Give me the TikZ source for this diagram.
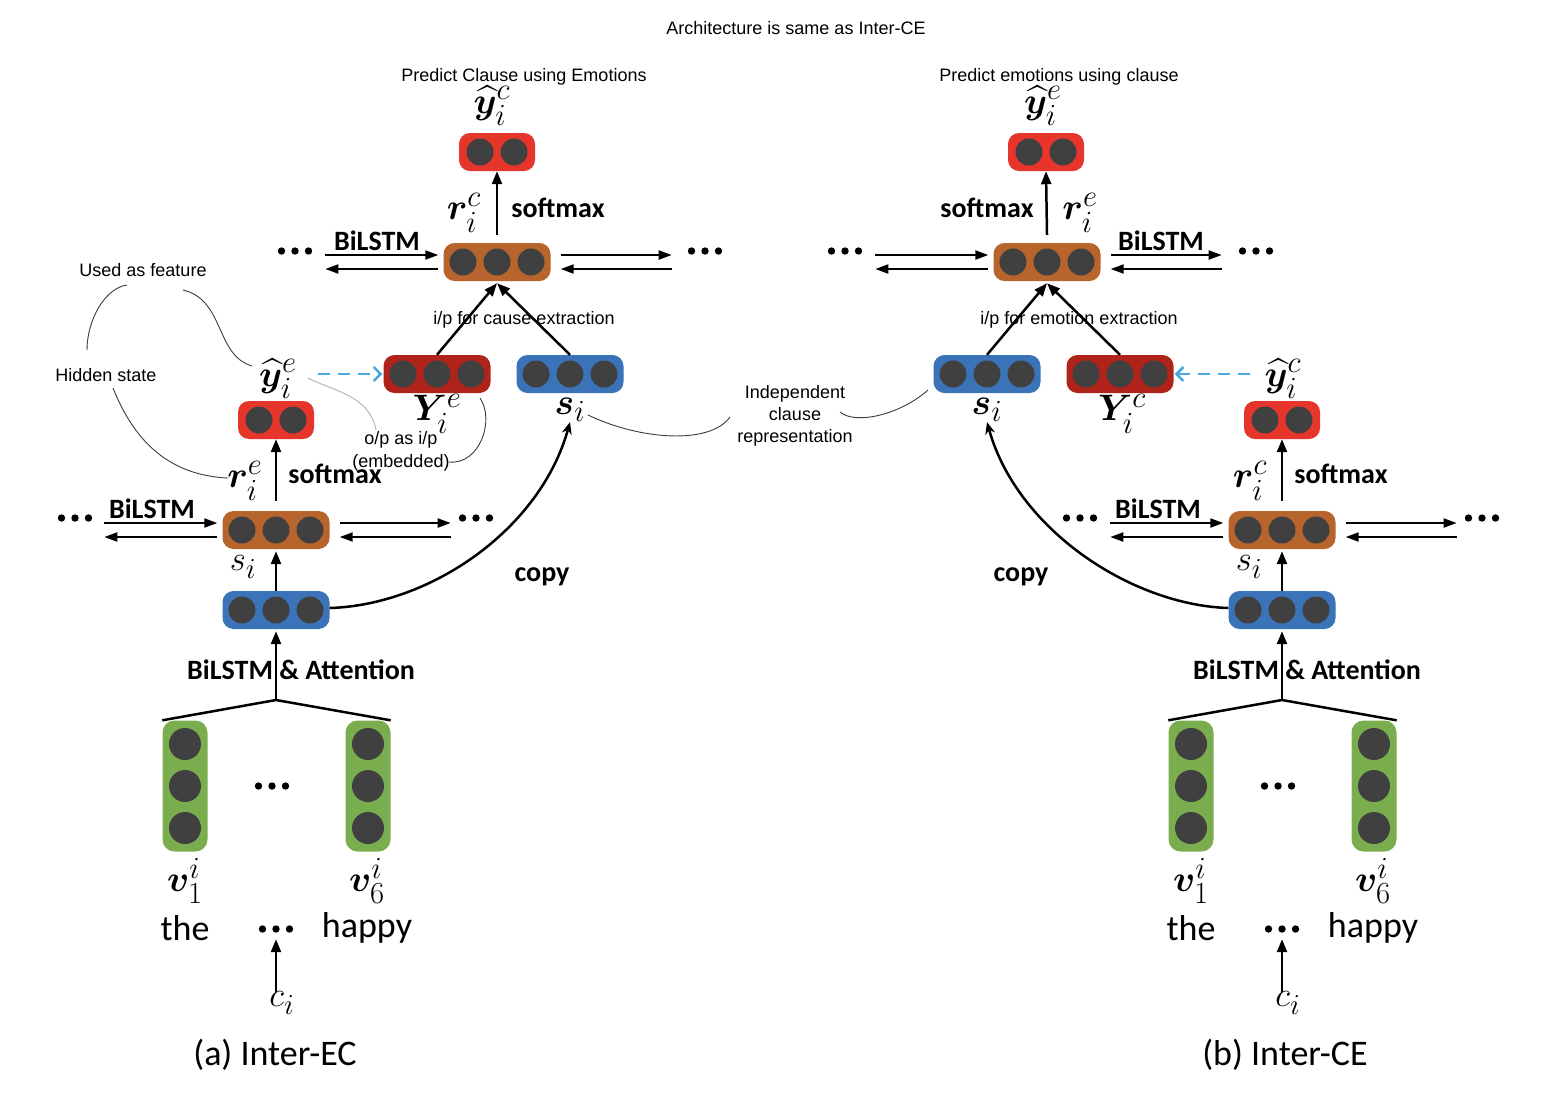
\documentclass[tikz,border=0pt]{standalone}
\usepackage{amsmath}
\usepackage{bm}
\usepackage{graphicx}
\usepackage{fontspec}
\newfontfamily\arialf{Liberation Sans}
\newfontfamily\calf{Carlito}
\usetikzlibrary{arrows.meta,calc}
\definecolor{redbox}{HTML}{E6352A}
\definecolor{orbox}{HTML}{B8652D}
\definecolor{drbox}{HTML}{AF231B}
\definecolor{blbox}{HTML}{3B73B9}
\definecolor{grbox}{HTML}{7AAD4D}
\definecolor{dotc}{HTML}{404040}
\definecolor{dashc}{HTML}{4BA8E0}
\definecolor{annc}{HTML}{3C3C3C}
\newcommand{\ML}[1]{\scalebox{1.48}{$#1$}}
\newcommand{\SL}[1]{\scalebox{1.4}{$#1$}}
\tikzset{
 vec/.style={fill=#1, draw=none, rounded corners=11pt, minimum height=38pt, inner sep=0pt},
 three/.style={vec=#1, minimum width=107pt},
 two/.style={vec=#1, minimum width=76pt},
 gbox/.style={fill=grbox, draw=none, rounded corners=12pt, minimum width=45pt, minimum height=131pt, inner sep=0pt},
 ann/.style={font=\arialf\fontsize{18}{22}\selectfont, inner sep=0pt, align=center},
 blab/.style={font=\calf\bfseries\fontsize{28}{30}\selectfont, inner sep=0pt},
 word/.style={font=\calf\fontsize{36}{40}\selectfont, inner sep=0pt},
 mlab/.style={font=\fontsize{24.88}{30}\selectfont, inner sep=0pt},
 slab/.style={font=\fontsize{24.88}{30}\selectfont, inner sep=0pt},
 arr/.style={line width=2.5pt, -{Triangle[length=13pt,width=10pt]}},
 carr/.style={line width=2.5pt, -{Stealth[length=12pt,width=10pt]}},
 bil/.style={line width=2pt, -{Triangle[length=13pt,width=9pt]}},
 dsh/.style={dashc, line width=2.5pt, dash pattern=on 12pt off 8pt, -{Straight Barb[length=7pt,width=14pt]}},
 annl/.style={annc, line width=0.9pt},
 dotrow/.style={minimum width=36pt, minimum height=8pt, inner sep=0pt,
   path picture={\foreach \k in {-1,0,1}\fill[black] ([xshift=\k*13.5pt]path picture bounding box.center) circle (3.7pt);}},
}
\newcommand{\hcircs}[2]{\foreach \dx in {#2} \fill[dotc] ([xshift=\dx pt]#1.center) circle (13.5pt);}
\newcommand{\vcircs}[1]{\foreach \dy in {-42,0,42} \fill[dotc] ([yshift=\dy pt]#1.center) circle (16pt);}
\newcommand{\bilL}[1]{\draw[bil] ([xshift=-118pt,yshift=7pt]#1.west) -- ([xshift=-5pt,yshift=7pt]#1.west);
  \draw[bil] ([xshift=-5pt,yshift=-7pt]#1.west) -- ([xshift=-118pt,yshift=-7pt]#1.west);}
\newcommand{\bilR}[1]{\draw[bil] ([xshift=10pt,yshift=7pt]#1.east) -- ([xshift=121pt,yshift=7pt]#1.east);
  \draw[bil] ([xshift=121pt,yshift=-7pt]#1.east) -- ([xshift=10pt,yshift=-7pt]#1.east);}
\begin{document}
\begin{tikzpicture}[x=1pt,y=-1pt]
\useasboundingbox (0,0) rectangle (1566,1096);
\fill[white] (0,0) rectangle (1566,1096);

\node[ann] (title) at (796,28) {Architecture is same as Inter-CE};

% ================= (a) Inter-EC =================
\node[ann] (predA) at (524,77) {Predict Clause using Emotions};
\node[mlab] (yhcA) at (492,106) {\ML{\widehat{\bm{y}}_i^c}};
\node[two=redbox] (RcA) at (497,152) {}; \hcircs{RcA}{-17,17}
\node[three=orbox] (OcA) at (497,262) {}; \hcircs{OcA}{-34,0,34}
\draw[arr] ([yshift=8pt]OcA.north) -- (RcA.south);
\node[mlab] (rcA) at (464,213) {\ML{\bm{r}_i^c}};
\node[blab] (smcA) at (558,208) {softmax};
\bilL{OcA} \bilR{OcA}
\node[dotrow] (d1A) at (295,251) {};
\node[dotrow] (d2A) at (705,251) {};
\node[blab] (bl1A) at (377,241) {BiLSTM};

\node[three=drbox] (YeA) at (437,374) {}; \hcircs{YeA}{-34,0,34}
\node[three=blbox] (seA) at (570,374) {}; \hcircs{seA}{-34,0,34}
\draw[arr] (YeA.north) -- ([yshift=-2pt]OcA.south);
\draw[arr] (seA.north) -- ([yshift=-2pt]OcA.south);
\node[ann] (ipA) at (524,320) {i/p for cause extraction};
\node[mlab] (YelA) at (437,414) {\ML{\bm{Y}_i^e}};
\node[mlab] (selA) at (570,410) {\ML{\bm{s}_i}};

\node[mlab] (yheA) at (278,379) {\ML{\widehat{\bm{y}}_i^e}};
\node[two=redbox] (ReA) at (276,420) {}; \hcircs{ReA}{-17,17}
\coordinate (dsA) at ($(yheA.center |- YeA.west)+(40,0)$);
\draw[dsh] (dsA) -- ([xshift=-1pt]YeA.west);

\node[three=orbox] (OeA) at (276,530) {}; \hcircs{OeA}{-34,0,34}
\draw[arr] ([yshift=10pt]OeA.north) -- (ReA.south);
\node[mlab] (reA) at (245,481) {\ML{\bm{r}_i^e}};
\node[blab] (smeA) at (335,474) {softmax};
\bilL{OeA} \bilR{OeA}
\node[dotrow] (d3A) at (75,518) {};
\node[dotrow] (d4A) at (476,518) {};
\node[blab] (bl2A) at (152,509) {BiLSTM};
\node[slab] (silA) at (243,567) {\SL{s_i}};

\node[three=blbox] (BeA) at (276,610) {}; \hcircs{BeA}{-34,0,34}
\draw[arr] (BeA.north) -- ([yshift=-2pt]OeA.south);
\node[blab] (copyA) at (542,577) {copy};
\draw[carr] ([yshift=2pt]BeA.east) .. controls (430,605) and (540,530) .. (selA.south);

\node[gbox] (g1A) at (185,786) {}; \vcircs{g1A}
\node[gbox] (g2A) at (368,786) {}; \vcircs{g2A}
\coordinate (apA) at (276,700);
\draw[line width=2.5pt] (g1A.north west) -- (apA) -- (g2A.north east);
\draw[arr] (apA) -- ([yshift=-2pt]BeA.south);
\node[blab] (attA) at (301,670) {BiLSTM \& Attention};
\node[dotrow] (d5A) at (272,786) {};
\node[mlab] (v1A) at (185,881) {\ML{\bm{v}_1^i}};
\node[mlab] (v6A) at (367,881) {\ML{\bm{v}_6^i}};
\node[word] (theA) at (185,928) {the};
\node[dotrow] (d6A) at (276,929) {};
\node[word] (hapA) at (367,928) {happy};
\node[slab] (ciA) at (282,1003) {\SL{c_i}};
\draw[arr] (d6A.south |- ciA.north) -- ([yshift=-6pt]d6A.south);
\node[word] (capA) at (275,1055) {(a) Inter-EC};

% annotations
\node[ann] (uafA) at (143,270) {Used as feature};
\node[ann] (hsA) at (106,375) {Hidden state};
\node[ann, font=\arialf\fontsize{18}{23}\selectfont] (opA) at (401,451) {o/p as i/p\\(embedded)};
\coordinate (a1) at (127,285); \coordinate (a2) at (87,350);
\coordinate (a3) at (183,290); \coordinate (a4) at (252,366);
\coordinate (a5) at (113,388); \coordinate (a6) at (228,478);
\coordinate (a7) at (308,378); \coordinate (a8) at (376,430);
\coordinate (a9) at (449,462); \coordinate (a10) at (480,398);
\draw[annl] (a1) .. controls (105,288) and (87,320) .. (a2);
\draw[annl] (a3) .. controls (225,300) and (215,355) .. (a4);
\draw[annl] (a5) .. controls (130,430) and (160,475) .. (a6);
\draw[annl, gray!60] (a7) .. controls (330,390) and (370,395) .. (a8);
\draw[annl] (a9) .. controls (480,465) and (495,420) .. (a10);

% middle
\node[ann] (icr) at (795,416) {Independent\\clause\\representation};
\coordinate (m1) at (588,415); \coordinate (m2) at (730,417);
\coordinate (m3) at (840,412); \coordinate (m4) at (928,390);
\draw[annl] (m1) .. controls (640,440) and (710,445) .. (m2);
\draw[annl] (m3) .. controls (855,425) and (900,415) .. (m4);

% ================= (b) Inter-CE =================
\node[ann] (predB) at (1059,77) {Predict emotions using clause};
\node[mlab] (yheB) at (1043,106) {\ML{\widehat{\bm{y}}_i^e}};
\node[two=redbox] (ReB) at (1046,152) {}; \hcircs{ReB}{-17,17}
\node[three=orbox] (OeB) at (1047,262) {}; \hcircs{OeB}{-34,0,34}
\draw[arr] ([yshift=8pt]OeB.north) -- (ReB.south);
\node[blab] (smeB) at (987,208) {softmax};
\node[mlab] (reB) at (1080,213) {\ML{\bm{r}_i^e}};
\bilL{OeB} \bilR{OeB}
\node[dotrow] (d1B) at (845,251) {};
\node[dotrow] (d2B) at (1256,251) {};
\node[blab] (bl1B) at (1161,241) {BiLSTM};

\node[three=blbox] (seB) at (987,374) {}; \hcircs{seB}{-34,0,34}
\node[three=drbox] (YcB) at (1120,374) {}; \hcircs{YcB}{-34,0,34}
\draw[arr] (seB.north) -- ([yshift=-2pt]OeB.south);
\draw[arr] (YcB.north) -- ([yshift=-2pt]OeB.south);
\node[ann] (ipB) at (1079,320) {i/p for emotion extraction};
\node[mlab] (selB) at (987,410) {\ML{\bm{s}_i}};
\node[mlab] (YclB) at (1122,414) {\ML{\bm{Y}_i^c}};

\node[mlab] (yhcB) at (1283,379) {\ML{\widehat{\bm{y}}_i^c}};
\node[two=redbox] (RcB) at (1282,420) {}; \hcircs{RcB}{-17,17}
\coordinate (dsB) at ($(yhcB.center |- YcB.west)+(-33,0)$);
\draw[dsh] (dsB) -- ([xshift=1pt]YcB.east);

\node[three=orbox] (OcB) at (1282,530) {}; \hcircs{OcB}{-34,0,34}
\draw[arr] ([yshift=10pt]OcB.north) -- (RcB.south);
\node[mlab] (rcB) at (1250,481) {\ML{\bm{r}_i^c}};
\node[blab] (smcB) at (1341,474) {softmax};
\bilL{OcB} \bilR{OcB}
\node[dotrow] (d3B) at (1080,518) {};
\node[dotrow] (d4B) at (1482,518) {};
\node[blab] (bl2B) at (1158,509) {BiLSTM};
\node[slab] (silB) at (1249,567) {\SL{s_i}};

\node[three=blbox] (BcB) at (1282,610) {}; \hcircs{BcB}{-34,0,34}
\draw[arr] (BcB.north) -- ([yshift=-2pt]OcB.south);
\node[blab] (copyB) at (1021,577) {copy};
\draw[carr] ([yshift=2pt]BcB.west) .. controls (1132,605) and (1017,530) .. (selB.south);

\node[gbox] (g1B) at (1191,786) {}; \vcircs{g1B}
\node[gbox] (g2B) at (1374,786) {}; \vcircs{g2B}
\coordinate (apB) at (1282,700);
\draw[line width=2.5pt] (g1B.north west) -- (apB) -- (g2B.north east);
\draw[arr] (apB) -- ([yshift=-2pt]BcB.south);
\node[blab] (attB) at (1307,670) {BiLSTM \& Attention};
\node[dotrow] (d5B) at (1278,786) {};
\node[mlab] (v1B) at (1191,881) {\ML{\bm{v}_1^i}};
\node[mlab] (v6B) at (1373,881) {\ML{\bm{v}_6^i}};
\node[word] (theB) at (1191,928) {the};
\node[dotrow] (d6B) at (1282,929) {};
\node[word] (hapB) at (1373,928) {happy};
\node[slab] (ciB) at (1288,1003) {\SL{c_i}};
\draw[arr] (d6B.south |- ciB.north) -- ([yshift=-6pt]d6B.south);
\node[word] (capB) at (1285,1055) {(b) Inter-CE};
\end{tikzpicture}
\end{document}
